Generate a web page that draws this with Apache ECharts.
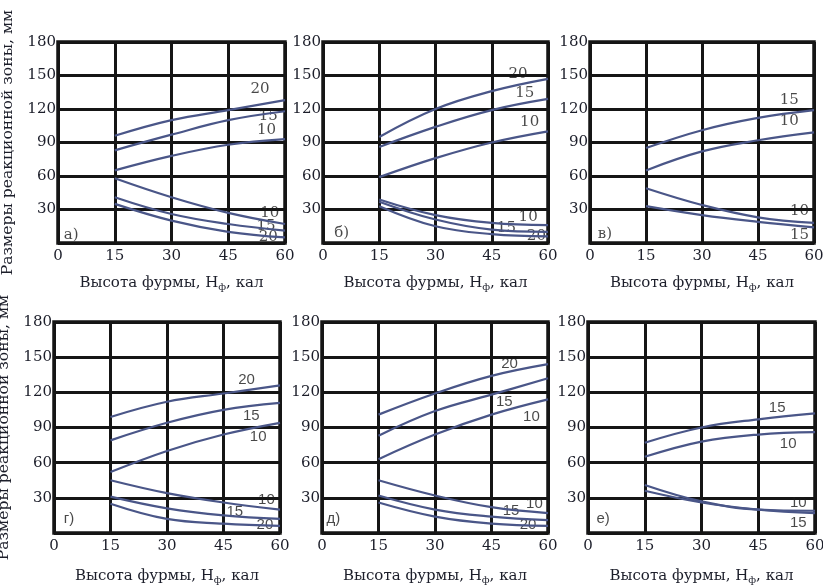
<!DOCTYPE html>
<html>
<head>
<meta charset="utf-8">
<script src="https://cdn.jsdelivr.net/npm/echarts@6/dist/echarts.min.js"></script>
<style>
  html, body { margin: 0; padding: 0; background: #fff; }
  #chart { width: 823px; height: 585px; }
</style>
</head>
<body>
<div id="chart"></div>
<script>
// высота фурмы, кал
var xVals = [15, 30, 45, 60];
var xTicks = [0, 15, 30, 45, 60];
var yTicks = [0, 30, 60, 90, 120, 150, 180];

// а)
var a_up20 = [96, 110, 119, 128];
var a_up15 = [83, 97, 110, 118];
var a_up10 = [65, 78, 88, 93];
var a_lo10 = [58, 41, 27, 17];
var a_lo15 = [41, 26, 17, 11];
var a_lo20 = [35, 20, 10, 5];
// б)
var b_up20 = [95, 120, 136, 147];
var b_up15 = [86, 104, 119, 129];
var b_up10 = [59, 76, 90, 100];
var b_lo10 = [39, 25, 18, 16];
var b_lo15 = [37, 21, 12, 10];
var b_lo20 = [33, 15, 8, 6];
// в)
var v_up15 = [85, 101, 112, 119];
var v_up10 = [65, 82, 92, 99];
var v_lo10 = [49, 34, 23, 18];
var v_lo15 = [33, 25, 19, 14];
// г)
var g_up20 = [99, 112, 119, 126];
var g_up15 = [79, 94, 105, 111];
var g_up10 = [52, 70, 84, 94];
var g_lo10 = [45, 34, 26, 20];
var g_lo15 = [31, 21, 15, 12];
var g_lo20 = [25, 12, 8, 6];
// д)
var d_up20 = [101, 119, 134, 144];
var d_up15 = [83, 104, 118, 132];
var d_up10 = [63, 84, 101, 114];
var d_lo10 = [45, 32, 22, 17];
var d_lo15 = [32, 20, 14, 11];
var d_lo20 = [26, 14, 8, 6];
// е)
var e_up15 = [77, 90, 97, 102];
var e_up10 = [65, 78, 84, 86];
var e_lo10 = [41, 27, 20, 19];
var e_lo15 = [36, 26, 20, 17];

// подписи кривых: [x, y, текст]
var a_lab = [[3.5, 7, 'а)'], [53.4, 138, '20'], [55.6, 114, '15'], [55.1, 101, '10'], [56, 27, '10'], [55, 15, '15'], [55.6, 5, '20']];
var b_lab = [[5, 9, 'б)'], [52, 151, '20'], [53.8, 134, '15'], [55.1, 108, '10'], [54.7, 23, '10'], [48.9, 13, '15'], [56.9, 6, '20']];
var v_lab = [[4, 8, 'в)'], [53.4, 128, '15'], [53.4, 109, '10'], [56.1, 29, '10'], [56.1, 7, '15']];
var g_lab = [[4, 12, 'г)'], [51.1, 131, '20'], [52.4, 100, '15'], [54.2, 82, '10'], [56.4, 28, '10'], [48, 18, '15'], [56, 7, '20']];
var d_lab = [[3, 12, 'д)'], [49.8, 144, '20'], [48.4, 112, '15'], [55.6, 99, '10'], [56.4, 25, '10'], [50.2, 19, '15'], [54.7, 7, '20']];
var e_lab = [[4, 12, 'е)'], [50, 107, '15'], [52.9, 76, '10'], [55.6, 26, '10'], [55.6, 9, '15']];

var panels = [
  { curves: [a_up20, a_up15, a_up10, a_lo10, a_lo15, a_lo20], labels: a_lab },
  { curves: [b_up20, b_up15, b_up10, b_lo10, b_lo15, b_lo20], labels: b_lab },
  { curves: [v_up15, v_up10, v_lo10, v_lo15], labels: v_lab },
  { curves: [g_up20, g_up15, g_up10, g_lo10, g_lo15, g_lo20], labels: g_lab },
  { curves: [d_up20, d_up15, d_up10, d_lo10, d_lo15, d_lo20], labels: d_lab },
  { curves: [e_up15, e_up10, e_lo10, e_lo15], labels: e_lab }
];

var boxes = [
  { left: 58, top: 42, width: 227, height: 201 },
  { left: 323, top: 42, width: 225, height: 201 },
  { left: 590, top: 42, width: 224, height: 201 },
  { left: 54, top: 322, width: 226, height: 211 },
  { left: 322, top: 322, width: 226, height: 211 },
  { left: 588, top: 322, width: 227, height: 211 }
];

var serif = 'DejaVu Serif';
var txt = '#1c1e2a';
var curveColor = '#4a5688';

var grid = [], xAxis = [], yAxis = [], series = [];

boxes.forEach(function (b, i) {
  grid.push({ left: b.left, top: b.top, width: b.width, height: b.height,
    outerBoundsMode: 'none', containLabel: false,
    show: true, borderColor: '#151515', borderWidth: 3.5, backgroundColor: '#fff' });

  xAxis.push({
    gridIndex: i, type: 'value', min: xTicks[0], max: xTicks[xTicks.length - 1], interval: 15,
    axisLine: { show: false }, axisTick: { show: false },
    splitLine: { show: true, lineStyle: { color: '#151515', width: 3 } },
    axisLabel: { color: txt, fontFamily: serif, fontSize: 15, margin: 6 },
    name: 'Высота фурмы, H{s|ф}, кал',
    nameLocation: 'middle', nameGap: i < 3 ? 31 : 34,
    nameTextStyle: { color: txt, fontFamily: serif, fontSize: 15,
      rich: { s: { fontFamily: serif, fontSize: 10, verticalAlign: 'bottom', padding: [8, 0, 0, 0], color: txt } } }
  });

  yAxis.push({
    gridIndex: i, type: 'value', min: yTicks[0], max: yTicks[yTicks.length - 1], interval: 30,
    axisLine: { show: false }, axisTick: { show: false },
    splitLine: { show: true, lineStyle: { color: '#151515', width: 3 } },
    axisLabel: { color: txt, fontFamily: serif, fontSize: 15, margin: 2,
      formatter: function (v) { return v === 0 ? '' : v; } },
    name: (i === 0 || i === 3) ? 'Размеры реакционной зоны, мм' : '',
    nameLocation: 'middle', nameGap: 42, nameRotate: 90,
    nameTextStyle: { color: txt, fontFamily: serif, fontSize: 15.6 }
  });

  panels[i].curves.forEach(function (c) {
    series.push({
      type: 'line', xAxisIndex: i, yAxisIndex: i, smooth: 0.4, symbol: 'none',
      lineStyle: { color: curveColor, width: 2.2 },
      data: xVals.map(function (x, k) { return [x, c[k]]; })
    });
  });

  series.push({
    type: 'scatter', xAxisIndex: i, yAxisIndex: i, symbolSize: 0, silent: true,
    label: { show: true, position: 'inside', formatter: '{b}', color: '#1a1a1a',
      fontFamily: i < 3 ? serif : 'Liberation Sans', fontSize: 15 },
    data: panels[i].labels.map(function (l) { return { value: [l[0], l[1]], name: l[2] }; })
  });
});

echarts.init(document.getElementById('chart')).setOption({
  animation: false,
  grid: grid, xAxis: xAxis, yAxis: yAxis, series: series
});
</script>
</body>
</html>
